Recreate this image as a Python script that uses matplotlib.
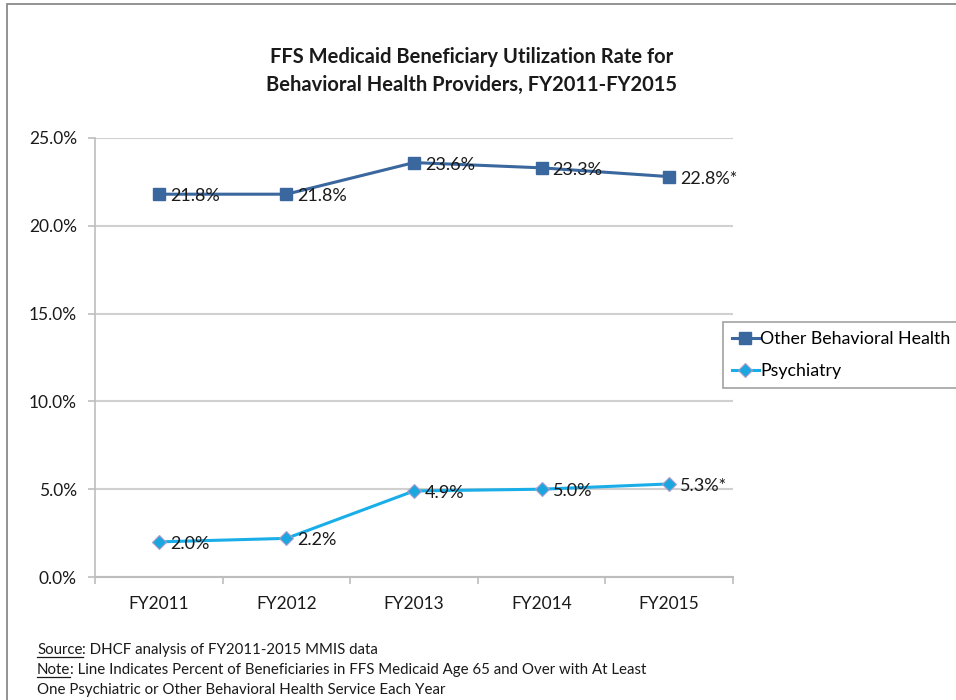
import matplotlib
matplotlib.use("Agg")
from matplotlib import pyplot
from matplotlib.patches import Rectangle
from matplotlib.lines import Line2D

years = ["FY2011", "FY2012", "FY2013", "FY2014", "FY2015"]
other_bh = [21.8, 21.8, 23.6, 23.3, 22.8]
psychiatry = [2.0, 2.2, 4.9, 5.0, 5.3]
other_labels = ["21.8%", "21.8%", "23.6%", "23.3%", "22.8%*"]
psych_labels = ["2.0%", "2.2%", "4.9%", "5.0%", "5.3%*"]
y_ticks = [0, 5, 10, 15, 20, 25]

pyplot.rcParams["font.family"] = ["Lato", "DejaVu Sans"]

fig = pyplot.figure(figsize=[9.56, 7.0], dpi=100)
ax = fig.add_axes([95 / 956, 123 / 700, 638 / 956, 439 / 700])

# outer frame of the figure panel (runs off the right and bottom)
fig.patches.append(Rectangle((7 / 956, -0.1), 1.2, (700 - 4) / 700 + 0.1,
                             transform=fig.transFigure, fill=False,
                             edgecolor="#8a8a8a", linewidth=1.3))

x = list(range(len(years)))
ax.plot(x, other_bh, color="#3A679E", linewidth=2.2, marker="s", markersize=9,
        markerfacecolor="#3A679E", markeredgecolor="#3A679E", label="Other Behavioral Health")
ax.plot(x, psychiatry, color="#1AAEE8", linewidth=2.2, marker="D", markersize=7,
        markerfacecolor="#1CA6E0", markeredgecolor="#A99CC8", markeredgewidth=0.8,
        label="Psychiatry")

for i in x:
    ax.annotate(other_labels[i], (i, other_bh[i]), xytext=(11, -2), textcoords="offset pixels",
                ha="left", va="center", fontsize=13, color="#1a1a1a")
    ax.annotate(psych_labels[i], (i, psychiatry[i]), xytext=(11, -2), textcoords="offset pixels",
                ha="left", va="center", fontsize=13, color="#1a1a1a")

ax.set_xlim(-0.5, 4.5)
ax.set_ylim(0, 25)
ax.set_yticks(y_ticks)
ax.set_yticklabels(["%.1f%%" % v for v in y_ticks], fontsize=12.5, color="#1a1a1a")
ax.set_xticks(x)
ax.set_xticklabels(years, fontsize=12.5, color="#1a1a1a")
ax.set_xticks([i + 0.5 for i in range(-1, 5)], minor=True)
ax.tick_params(axis="x", which="major", length=0, pad=14)
ax.tick_params(axis="x", which="minor", length=5, color="#bdbdbd", width=1.2)
ax.tick_params(axis="y", length=5, color="#bdbdbd", width=1.2, pad=8)

ax.grid(axis="y", color="#d0d0d0", linewidth=1.5)
ax.set_axisbelow(True)
for side in ["top", "right"]:
    ax.spines[side].set_visible(False)
ax.spines["left"].set_color("#bdbdbd")
ax.spines["bottom"].set_color("#bdbdbd")
ax.spines["left"].set_linewidth(1.2)
ax.spines["bottom"].set_linewidth(1.5)

fig.text(472 / 956, 1 - 57 / 700, "FFS Medicaid Beneficiary Utilization Rate for",
         ha="center", va="center", fontsize=14.5, fontweight="bold", color="#1a1a1a")
fig.text(472 / 956, 1 - 85 / 700, "Behavioral Health Providers, FY2011-FY2015",
         ha="center", va="center", fontsize=14.5, fontweight="bold", color="#1a1a1a")

handles = [Line2D([], [], color="#3A679E", linewidth=2.2, marker="s", markersize=9),
           Line2D([], [], color="#1AAEE8", linewidth=2.2, marker="D", markersize=7,
                  markerfacecolor="#1CA6E0", markeredgecolor="#A99CC8", markeredgewidth=0.8)]
leg = fig.legend(handles, ["Other Behavioral Health", "Psychiatry"], loc="upper left",
                 bbox_to_anchor=(723 / 956, 1 - 322 / 700), fontsize=12.8, frameon=True,
                 fancybox=False, edgecolor="#8a8a8a", handlelength=1.5, handletextpad=0.1,
                 borderpad=0.5, labelspacing=0.9, borderaxespad=0)
leg.get_frame().set_linewidth(1.2)

# footnotes, with the lead words underlined
notes = [("Source", ": DHCF analysis of FY2011-2015 MMIS data"),
         ("Note", ": Line Indicates Percent of Beneficiaries in FFS Medicaid Age 65 and Over with At Least"),
         (None, "One Psychiatric or Other Behavioral Health Service Each Year")]
renderer = fig.canvas.get_renderer()
inv = fig.transFigure.inverted()
y0 = 654
for lead, rest in notes:
    xf = 37 / 956
    yf = 1 - y0 / 700
    if lead:
        t = fig.text(xf, yf, lead, ha="left", va="baseline", fontsize=10.8, color="#1a1a1a")
        bb = t.get_window_extent(renderer)
        x1, x2 = inv.transform([(bb.x0, 0), (bb.x1, 0)])[:, 0]
        yl = yf - 2.5 / 700
        fig.add_artist(Line2D([x1, x2], [yl, yl], transform=fig.transFigure,
                              color="#1a1a1a", linewidth=0.9))
        xf = x2
    fig.text(xf, yf, rest, ha="left", va="baseline", fontsize=10.8, color="#1a1a1a")
    y0 += 20

fig.savefig("out.png", dpi=100)
